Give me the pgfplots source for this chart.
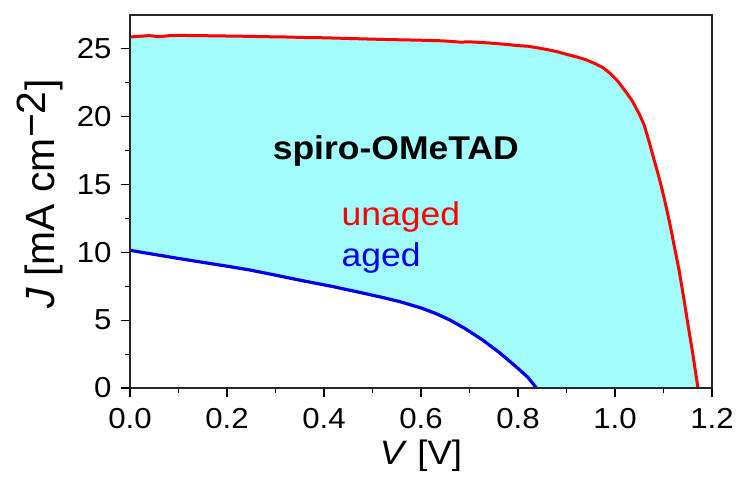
\documentclass[border=0pt]{standalone}
\usepackage{graphicx}
\usepackage{pgfplots}
\pgfplotsset{compat=1.18}
\usepackage{fontspec}
\setmainfont{Liberation Sans}

\definecolor{areafill}{RGB}{162,252,252}
\definecolor{jred}{RGB}{255,0,0}
\definecolor{jblue}{RGB}{0,0,240}

\newcommand{\wide}[1]{\scalebox{1.08}[1]{#1}}

% J-V curve of the fresh cell
\pgfplotstableread{
V J
0.000 25.88
0.020 25.93
0.040 25.98
0.060 25.90
0.080 25.97
0.100 26.00
0.130 25.98
0.160 25.97
0.200 25.95
0.240 25.93
0.280 25.90
0.320 25.88
0.360 25.84
0.400 25.82
0.440 25.78
0.480 25.74
0.520 25.70
0.560 25.67
0.600 25.64
0.640 25.60
0.660 25.56
0.680 25.50
0.700 25.52
0.740 25.44
0.780 25.32
0.800 25.24
0.820 25.20
0.840 25.08
0.860 24.95
0.880 24.80
0.900 24.60
0.920 24.42
0.940 24.20
0.960 23.90
0.975 23.62
0.990 23.20
1.005 22.65
1.020 21.95
1.035 21.20
1.050 20.20
1.060 19.40
1.070 18.20
1.080 16.90
1.091 15.50
1.102 13.90
1.112 12.30
1.122 10.50
1.132 8.70
1.141 6.80
1.149 5.00
1.160 2.60
1.171 0.00
}\unaged

% J-V curve of the aged cell
\pgfplotstableread{
V J
0.000 10.15
0.100 9.55
0.200 8.98
0.247 8.70
0.300 8.32
0.350 7.95
0.418 7.48
0.480 7.00
0.520 6.68
0.556 6.37
0.600 5.90
0.630 5.50
0.659 5.02
0.690 4.40
0.727 3.54
0.762 2.60
0.796 1.57
0.820 0.80
0.838 0.00
}\aged

\begin{document}
\begin{tikzpicture}
\begin{axis}[
  scale only axis,
  width=582bp, height=373bp,
  xmin=0, xmax=1.2, ymin=0, ymax=27.5,
  xtick={0,0.2,...,1.2}, ytick={0,5,...,25},
  minor x tick num=1, minor y tick num=1,
  tick pos=left, tick align=outside,
  major tick length=9bp, minor tick length=5bp,
  every tick/.style={black, line width=1.1bp},
  axis line style={black!85, line width=1.2bp},
  axis on top,
  /pgf/number format/assume math mode=true,
  ticklabel style={font=\fontsize{29}{30}\selectfont},
  xticklabel={\wide{\pgfmathprintnumber[fixed,fixed zerofill,precision=1]{\tick}}},
  yticklabel={\wide{\pgfmathprintnumber[fixed,precision=0]{\tick}}},
  xticklabel style={yshift=-8bp},
  yticklabel style={xshift=-6bp},
  xlabel={\wide{\textit{V} [V]}},
  ylabel={\textit{J} [mA cm$^{\textrm{−2}}$]},
  xlabel style={font=\fontsize{34}{36}\selectfont,
    at={(axis description cs:0.5,-0.182)}, anchor=center},
  ylabel style={font=\fontsize{41}{43}\selectfont,
    at={(axis description cs:-0.155,0.52)}, anchor=center},
  clip=true,
]
  \addplot[fill=areafill, draw=none] table[x=V, y=J] {\unaged} \closedcycle;
  \addplot[fill=white, draw=none] table[x=V, y=J] {\aged} \closedcycle;
  \addplot[jred, line width=3bp, line join=round] table[x=V, y=J] {\unaged};
  \addplot[jblue, line width=3.2bp, line join=round] table[x=V, y=J] {\aged};

  \node[anchor=base west, font=\fontsize{33}{34}\selectfont\bfseries, inner sep=0pt]
    at (axis cs:0.294,16.83) {\wide{spiro-OMeTAD}};
  \node[anchor=base west, font=\fontsize{33}{34}\selectfont, text=jred, inner sep=0pt]
    at (axis cs:0.436,11.96) {\wide{unaged}};
  \node[anchor=base west, font=\fontsize{33}{34}\selectfont, text=jblue, inner sep=0pt]
    at (axis cs:0.436,8.93) {\wide{aged}};

  \coordinate (bl) at (rel axis cs:0,0);
  \coordinate (tr) at (rel axis cs:1,1);
\end{axis}
\pgfresetboundingbox
\path[use as bounding box] ([xshift=-130bp, yshift=-89bp]bl) rectangle ([xshift=27bp, yshift=15bp]tr);
\end{tikzpicture}
\end{document}
